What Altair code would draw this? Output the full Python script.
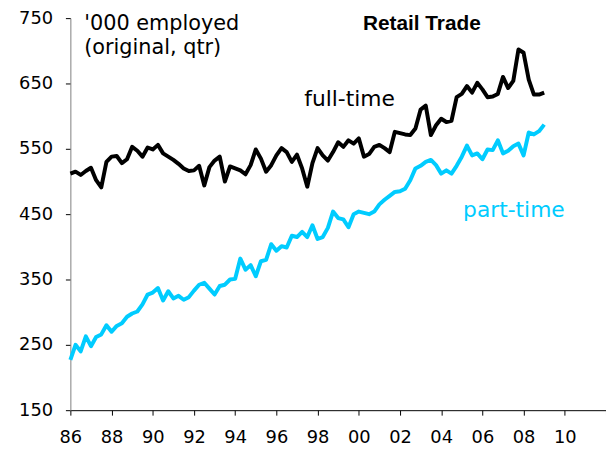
import altair as alt
import pandas as pd

# quarterly observations, 1986 Q1 .. 2009 Q1 (decimal year of each quarter)
quarters = [1986 + 0.25 * i for i in range(93)]

full_time = [
    512, 515, 510, 516, 521, 502, 491, 530, 538, 539,
    528, 534, 553, 547, 538, 552, 549, 556, 543, 538,
    533, 527, 520, 516, 517, 524, 494, 522, 532, 538,
    500, 523, 520, 517, 511, 525, 549, 535, 515, 525,
    540, 551, 545, 530, 541, 520, 492, 528, 551, 540,
    532, 545, 560, 553, 563, 558, 566, 538, 542, 553,
    556, 551, 545, 576, 574, 572, 571, 581, 610, 616,
    571, 586, 596, 591, 593, 629, 634, 646, 636, 651,
    641, 629, 630, 634, 660, 643, 654, 702, 697, 656,
    633, 633, 636,
]

part_time = [
    227, 250, 240, 263, 248, 262, 266, 280, 270, 279,
    283, 293, 298, 301, 312, 327, 330, 337, 318, 332,
    321, 325, 319, 323, 333, 342, 345, 336, 327, 340,
    342, 350, 351, 382, 365, 372, 355, 378, 380, 404,
    394, 401, 399, 417, 415, 423, 415, 433, 412, 415,
    429, 454, 444, 442, 430, 450, 454, 452, 450, 454,
    465, 472, 478, 484, 485, 489, 502, 520, 524, 530,
    533, 525, 512, 517, 512, 524, 538, 555, 540, 543,
    534, 549, 548, 563, 543, 547, 554, 558, 540, 575,
    572, 577, 587,
]

series_names = ["full-time", "part-time"]
series_colors = ["#000000", "#00CCFF"]
x_ticks = list(range(1986, 2013, 2))
y_ticks = [150, 250, 350, 450, 550, 650, 750]

df = pd.DataFrame({
    "t": quarters + quarters,
    "value": full_time + part_time,
    "series": [series_names[0]] * len(full_time) + [series_names[1]] * len(part_time),
})

FONT = "DejaVu Sans"

lines = alt.Chart(df).mark_line(strokeWidth=4, strokeJoin="round").encode(
    x=alt.X(
        "t:Q",
        scale=alt.Scale(domain=[1986, 2012], nice=False, zero=False),
        axis=alt.Axis(
            values=x_ticks,
            labelExpr="datum.value == 2012 ? '' : substring(toString(datum.value), 2)",
            title=None, grid=False, domainColor="#000000", tickColor="#000000",
            tickSize=5, labelFontSize=18, labelFont=FONT, labelColor="#000000",
            labelPadding=14, labelFlush=False, labelOverlap=False,
        ),
    ),
    y=alt.Y(
        "value:Q",
        scale=alt.Scale(domain=[150, 750], nice=False, zero=False),
        axis=alt.Axis(
            values=y_ticks, title=None, grid=False, domainColor="#808080",
            tickColor="#000000", tickSize=5, labelFontSize=18, labelFont=FONT,
            labelColor="#000000", labelPadding=13, labelFlush=False, labelOverlap=False,
        ),
    ),
    color=alt.Color("series:N", scale=alt.Scale(domain=series_names, range=series_colors), legend=None),
    detail="series:N",
)

one = alt.Data(values=[{}])

def label(text, x, y, size=21, color="#000000", align="left", weight="normal", font=FONT, baseline="middle"):
    return alt.Chart(one).mark_text(
        text=text, align=align, baseline=baseline, fontSize=size, color=color,
        fontWeight=weight, font=font,
    ).encode(x=alt.value(x), y=alt.value(y))

t1 = label("'000 employed", 14, 6)
t2 = label("(original, qtr)", 14, 30)
t3 = label("Retail Trade", 355, 6, size=21, align="center", weight="bold", font="Liberation Sans")
t4 = label("full-time", 282, 82, size=22, align="center")
t5 = label("part-time", 448, 194, size=22, align="center", color="#00CCFF")

chart = alt.layer(lines, t1, t2, t3, t4, t5).properties(
    width=541,
    height=396,
    padding={"left": 63, "top": 8, "right": 0, "bottom": 40},
    autosize=alt.AutoSizeParams(type="none"),
    background="#FFFFFF",
).configure_view(stroke=None)

chart.save("out.html", embed_options={"renderer": "svg", "actions": False})
